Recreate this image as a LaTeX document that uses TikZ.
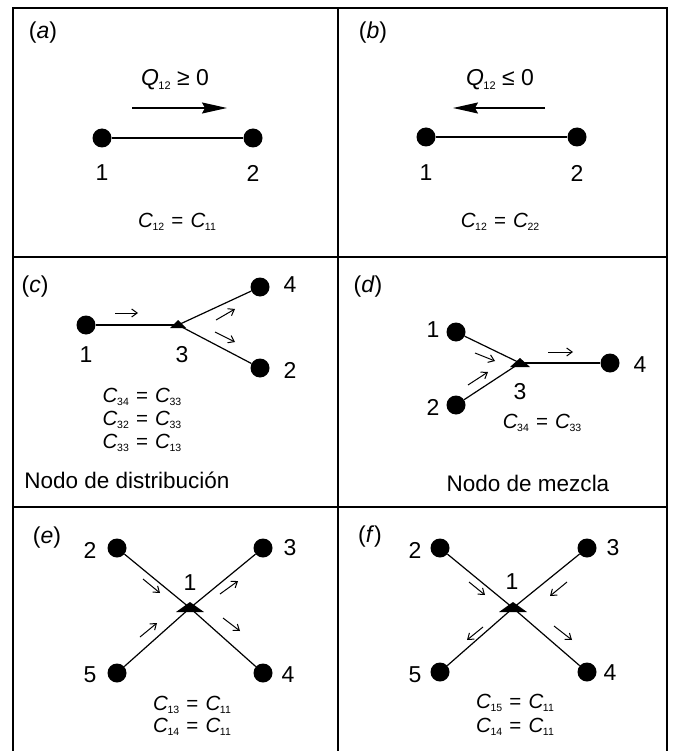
\documentclass[tikz,border=0pt]{standalone}
\usepackage{fontspec}
\setmainfont{Liberation Sans}
\usetikzlibrary{arrows.meta}
\newcommand{\Csub}[1]{\textit{C}\kern-0.5pt\raisebox{-3.5pt}{\fontsize{10.5}{10.5}\selectfont #1}}
\newcommand{\Qsub}[1]{\textit{Q}\kern-0.5pt\raisebox{-3.5pt}{\fontsize{11}{11}\selectfont #1}}
\newcommand{\eqs}{\hspace{0.35em}=\hspace{0.35em}}
\begin{document}
\begin{tikzpicture}[x=1pt,y=-1pt,
  frame/.style={line width=1.4pt},
  dot/.style={circle,fill=black,inner sep=0pt,minimum size=19pt},
  lbl/.style={inner sep=0pt,font=\fontsize{23}{27}\selectfont},
  eqn/.style={inner sep=0pt,font=\fontsize{20.5}{23}\selectfont,align=center},
  edge/.style={line width=1.2pt},
  big/.style={line width=1.3pt,-{Stealth[length=25pt,width=11pt,inset=3pt]}},
  small/.style={line width=1pt,-{Straight Barb[length=5.5pt,width=8pt]}}]
\useasboundingbox (0,0) rectangle (674,751);
% frame
\draw[frame] (13,751) -- (13,8) -- (667,8) -- (667,751);
\draw[frame] (338,8) -- (338,751);
\draw[frame] (13,257) -- (667,257);
\draw[frame] (13,507) -- (667,507);

% ---------- (a)
\node[lbl] (la) at (43,33) {(\textit{a})};
\node[lbl] (qa) at (175,80) {\Qsub{12} ≥ 0};
\coordinate (aa1) at (132,108);
\coordinate (aa2) at (227,108);
\draw[big] (aa1) -- (aa2);
\node[dot] (a1) at (102,138) {};
\node[dot] (a2) at (253,138) {};
\draw[edge] (a1) -- (a2);
\node[lbl] (ta1) at (102,173) {1};
\node[lbl] (ta2) at (253,173) {2};
\node[eqn] (ea) at (177,222) {\Csub{12}\eqs\Csub{11}};

% ---------- (b)
\node[lbl] (lb) at (373,33) {(\textit{b})};
\node[lbl] (qb) at (500,80) {\Qsub{12} ≤ 0};
\coordinate (ba1) at (545,108);
\coordinate (ba2) at (453,108);
\draw[big] (ba1) -- (ba2);
\node[dot] (b1) at (426,137) {};
\node[dot] (b2) at (577,137) {};
\draw[edge] (b1) -- (b2);
\node[lbl] (tb1) at (426,173) {1};
\node[lbl] (tb2) at (577,173) {2};
\node[eqn] (eb) at (500,222) {\Csub{12}\eqs\Csub{22}};

% ---------- (c)
\node[lbl] (lc) at (35,287) {(\textit{c})};
\node[dot] (c1) at (86,325) {};
\coordinate (c3) at (178,325);
\node[dot] (c4) at (260,287) {};
\node[dot] (c2) at (260,368) {};
\draw[edge] (c1) -- (c3);
\draw[edge] (c3) -- (c4);
\draw[edge] (c3) -- (c2);
\fill[shift={(c3)}] (-8,3) -- (8,3) -- (0,-5) -- cycle;
\node[lbl] (tc4) at (290,285) {4};
\node[lbl] (tc2) at (290,370) {2};
\node[lbl] (tc1) at (86,355) {1};
\node[lbl] (tc3) at (182,355) {3};
\draw[small] (115,313) -- (138,313);
\draw[small] (216,320) -- (235,309);
\draw[small] (215,332) -- (235,342);
\node[eqn] (ec1) at (142,397) {\Csub{34}\eqs\Csub{33}};
\node[eqn] (ec2) at (142,420) {\Csub{32}\eqs\Csub{33}};
\node[eqn] (ec3) at (142,443) {\Csub{33}\eqs\Csub{13}};
\node[lbl,font=\fontsize{22.5}{26}\selectfont] (nc) at (127,480) {Nodo de distribución};

% ---------- (d)
\node[lbl] (ld) at (368,287) {(\textit{d})};
\node[dot] (d1) at (456,332) {};
\node[dot] (d2) at (456,405) {};
\coordinate (d3) at (520,363);
\node[dot] (d4) at (610,363) {};
\draw[edge] (d1) -- (d3);
\draw[edge] (d2) -- (d3);
\draw[edge] (d3) -- (d4);
\fill[shift={(d3)}] (-10,4) -- (10,4) -- (0,-5) -- cycle;
\node[lbl] (td1) at (433,330) {1};
\node[lbl] (td2) at (433,407) {2};
\node[lbl] (td3) at (520,392) {3};
\node[lbl] (td4) at (640,365) {4};
\draw[small] (548,352) -- (573,352);
\draw[small] (475,353) -- (495,361);
\draw[small] (468,385) -- (488,372);
\node[eqn] (ed) at (542,423) {\Csub{34}\eqs\Csub{33}};
\node[lbl,font=\fontsize{22.5}{26}\selectfont] (nd) at (528,483) {Nodo de mezcla};

% ---------- (e)
\node[lbl] (le) at (47,538) {(\textit{e})};
\node[dot] (e2) at (117,548) {};
\node[dot] (e3) at (263,548) {};
\node[dot] (e5) at (117,673) {};
\node[dot] (e4) at (263,673) {};
\coordinate (e1) at (190,608);
\draw[edge] (e2) -- (e1) -- (e4);
\draw[edge] (e5) -- (e1) -- (e3);
\fill[shift={(e1)}] (-14,4) -- (14,4) -- (0,-6) -- cycle;
\node[lbl] (te2) at (90,550) {2};
\node[lbl] (te3) at (290,548) {3};
\node[lbl] (te5) at (90,675) {5};
\node[lbl] (te4) at (288,675) {4};
\node[lbl] (te1) at (190,583) {1};
\draw[small] (143,579) -- (160,593);
\draw[small] (220,594) -- (238,581);
\draw[small] (140,637) -- (157,623);
\draw[small] (223,618) -- (240,631);
\node[eqn] (ee1) at (192,705) {\Csub{13}\eqs\Csub{11}};
\node[eqn] (ee2) at (192,727) {\Csub{14}\eqs\Csub{11}};

% ---------- (f)
\node[lbl] (lf) at (370,537) {(\textit{f})};
\node[dot] (f2) at (440,548) {};
\node[dot] (f3) at (587,548) {};
\node[dot] (f5) at (440,672) {};
\node[dot] (f4) at (587,672) {};
\coordinate (f1) at (513,608);
\draw[edge] (f2) -- (f1) -- (f4);
\draw[edge] (f5) -- (f1) -- (f3);
\fill[shift={(f1)}] (-14,4) -- (14,4) -- (0,-6) -- cycle;
\node[lbl] (tf2) at (415,550) {2};
\node[lbl] (tf3) at (613,548) {3};
\node[lbl] (tf5) at (415,675) {5};
\node[lbl] (tf4) at (610,673) {4};
\node[lbl] (tf1) at (512,582) {1};
\draw[small] (469,582) -- (485,595);
\draw[small] (567,582) -- (550,596);
\draw[small] (483,627) -- (467,640);
\draw[small] (554,626) -- (572,640);
\node[eqn] (ef1) at (515,703) {\Csub{15}\eqs\Csub{11}};
\node[eqn] (ef2) at (515,727) {\Csub{14}\eqs\Csub{11}};
\end{tikzpicture}
\end{document}
